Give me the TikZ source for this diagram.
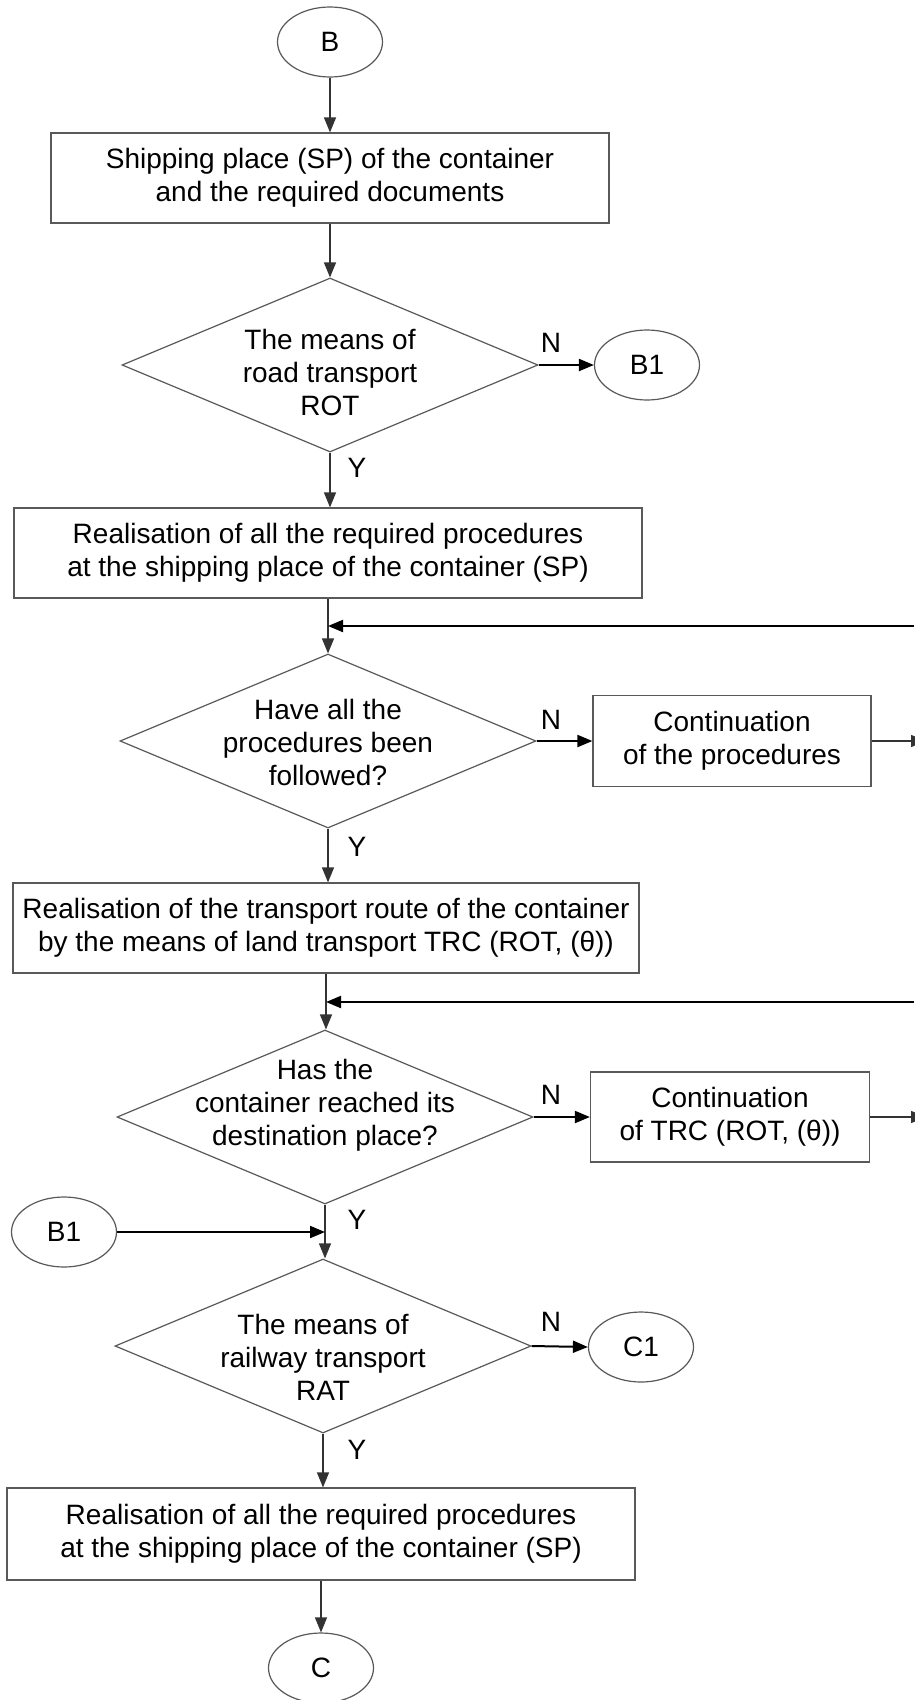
\documentclass[tikz,border=0pt]{standalone}
\usepackage{fontspec}
\setmainfont{Liberation Sans}
\usetikzlibrary{shapes.geometric,arrows.meta,calc}
\begin{document}
\begin{tikzpicture}[x=1pt,y=-1pt,
  every node/.style={font=\fontsize{28}{33}\selectfont},
  box/.style={draw=black!65,line width=1.2pt,rectangle,inner sep=0,align=center},
  dia/.style={draw=black!65,line width=1.2pt,diamond,minimum width=416pt,minimum height=174pt,inner sep=0},
  term/.style={draw=black!65,line width=1.2pt,ellipse,minimum width=105pt,minimum height=70pt,inner sep=0},
  txt/.style={align=center,inner sep=0},
  lbl/.style={inner sep=0},
  tip/.style={-{Triangle[length=15pt,width=12pt]}},
  vline/.style={tip,draw=black!80,line width=1.3pt},
  hline/.style={tip,draw=black,line width=2pt},
]
\useasboundingbox[fill=white] (0,0) rectangle (914,1700);

% nodes
\node[term] (B) at (330,42) {B};
\node[box,minimum width=558pt,minimum height=90pt] (s1) at (330,178) {Shipping place (SP) of the container\\and the required documents};
\node[dia] (d1) at (330,365) {};
\node[txt] (d1t) at (330,372) {The means of\\road transport\\ROT};
\node[term] (B1a) at (647,365) {B1};
\node[box,minimum width=628pt,minimum height=90pt] (s2) at (328,553) {Realisation of all the required procedures\\at the shipping place of the container (SP)};
\node[dia] (d2) at (328,741) {};
\node[txt] (d2t) at (328,742) {Have all the\\procedures been\\followed?};
\node[box,minimum width=278pt,minimum height=91pt] (c1) at (732,741) {Continuation\\of the procedures};
\node[box,minimum width=626pt,minimum height=90pt] (s3) at (326,928) {Realisation of the transport route of the container\\by the means of land transport TRC (ROT, (θ))};
\node[dia] (d3) at (325,1117) {};
\node[txt] (d3t) at (325,1105) {Has the\\container reached its\\destination place?};
\node[box,minimum width=279pt,minimum height=90pt] (c2) at (730,1117) {Continuation\\of TRC (ROT, (θ))};
\node[term] (B1b) at (64,1232) {B1};
\node[dia] (d4) at (323,1346) {};
\node[txt] (d4t) at (323,1357) {The means of\\railway transport\\RAT};
\node[term] (C1) at (641,1347) {C1};
\node[box,minimum width=628pt,minimum height=92pt] (s4) at (321,1534) {Realisation of all the required procedures\\at the shipping place of the container (SP)};
\node[term] (C) at (321,1668) {C};

% labels
\node[lbl] (n1) at (551,343) {N};
\node[lbl] (y1) at (357,468) {Y};
\node[lbl] (n2) at (551,720) {N};
\node[lbl] (y2) at (357,847) {Y};
\node[lbl] (n3) at (551,1095) {N};
\node[lbl] (y3) at (357,1220) {Y};
\node[lbl] (n4) at (551,1322) {N};
\node[lbl] (y4) at (357,1450) {Y};

% free ends at the right edge
\coordinate (f1) at (914,626);
\coordinate (f2) at (914,1002);
\coordinate (e1) at (926,741);
\coordinate (e2) at (926,1117);

% connectors
\draw[vline] (B.south) -- (B.south |- s1.north);
\draw[vline] (s1.south) -- (s1.south |- d1.north);
\draw[hline] (d1.east) -- (B1a.west);
\draw[vline] (d1.south) -- (d1.south |- s2.north);
\draw[vline] (s2.south) -- (s2.south |- d2.north);
\draw[hline] (f1) -- (f1 -| s2.south);
\draw[hline] (d2.east) -- (c1.west);
\draw[vline] (c1.east) -- (e1);
\draw[vline] (d2.south) -- (d2.south |- s3.north);
\draw[vline] (s3.south) -- (s3.south |- d3.north);
\draw[hline] (f2) -- (f2 -| s3.south);
\draw[hline] (d3.east) -- (c2.west);
\draw[vline] (c2.east) -- (e2);
\draw[vline] (d3.south) -- (d3.south |- d4.north);
\draw[hline] (B1b.east) -- (B1b.east -| d3.south);
\draw[hline] (d4.east) -- (C1.west);
\draw[vline] (d4.south) -- (d4.south |- s4.north);
\draw[vline] (s4.south) -- (s4.south |- C.north);
\end{tikzpicture}
\end{document}
